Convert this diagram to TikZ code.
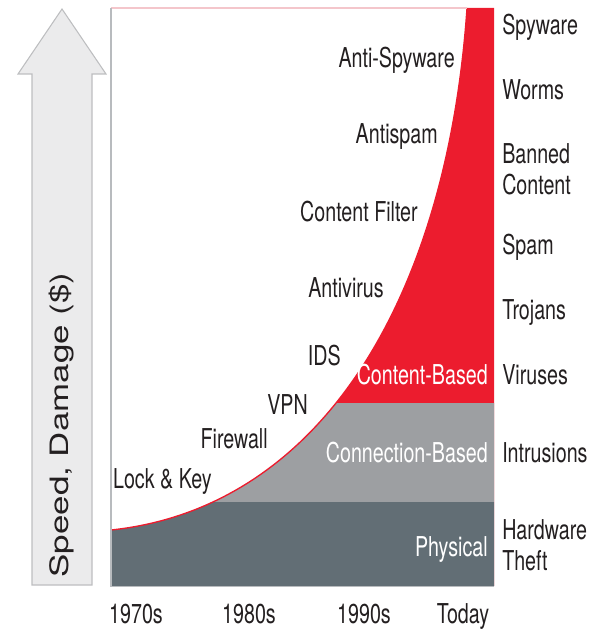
\documentclass[tikz,border=0pt]{standalone}
\usepackage{fontspec}
\newfontfamily\cf[FakeStretch=0.72]{TeX Gyre Heros}
\newfontfamily\wf[FakeStretch=1.38]{TeX Gyre Heros}
\definecolor{redc}{HTML}{EC1C2E}
\definecolor{midgrey}{HTML}{9D9FA2}
\definecolor{darkgrey}{HTML}{626E75}
\definecolor{arrowfill}{HTML}{EBEBEC}
\definecolor{arrowline}{HTML}{BDBEC0}
\definecolor{framec}{HTML}{B8BBBE}
\definecolor{pinkline}{HTML}{F4C6CB}
\definecolor{txt}{HTML}{231F20}
\begin{document}
\begin{tikzpicture}[x=0.75pt,y=-0.75pt,
  lbl/.style={font=\cf\fontsize{20.5}{22}\selectfont, text=txt, inner sep=0pt},
  wlbl/.style={lbl, text=white},
  lft/.style={lbl, anchor=base east},
  rgt/.style={lbl, anchor=base west},
  yr/.style={lbl, anchor=base}]
\useasboundingbox (0,0) rectangle (590,631);
% vertical arrow
\draw[fill=arrowfill, draw=arrowline, line width=0.8]
  (32,585) -- (32,74) -- (18,74) -- (62,9) -- (106,74) -- (92,74) -- (92,585) -- cycle;
\node[rotate=90, anchor=base, font=\wf\fontsize{19}{22}\selectfont, text=txt, inner sep=0pt]
  (ylab) at (68,425) {Speed, Damage (\$)};
% regions
\def\curvepath{(111,530) .. controls (320,508) and (447,300) .. (467,8)}
\fill[redc] \curvepath -- (494,8) -- (494,586) -- (111,586) -- cycle;
\begin{scope}
  \clip \curvepath -- (494,8) -- (494,586) -- (111,586) -- cycle;
  \fill[midgrey] (100,403) rectangle (500,502);
  \fill[darkgrey] (100,502) rectangle (500,586);
\end{scope}
\draw[redc, line width=1] \curvepath;
% frame
\draw[pinkline, line width=0.8] (111,8) -- (467,8);
\draw[framec, line width=1.2] (111,8) -- (111,586.5) -- (494,586.5);
% defences
\node[lft] (antispy) at (455,68) {Anti-Spyware};
\node[lft] (antispam) at (438,144) {Antispam};
\node[lft] (cfilter) at (418,221) {Content Filter};
\node[lft] (antivirus) at (384,297) {Antivirus};
\node[lft] (ids) at (341,365) {IDS};
\node[lft] (vpn) at (308,414) {VPN};
\node[lft] (firewall) at (268,448) {Firewall};
\node[lft] (lock) at (212,488) {Lock \& Key};
% bands
\node[wlbl, anchor=base east] (content) at (488,384) {Content-Based};
\node[wlbl, anchor=base east] (connection) at (488,462) {Connection-Based};
\node[wlbl, anchor=base east] (physical) at (488,556) {Physical};
% threats
\node[rgt] (spyware) at (502,35) {Spyware};
\node[rgt] (worms) at (502,100) {Worms};
\node[rgt] (banned) at (502,163) {Banned};
\node[rgt] (bcontent) at (502,194) {Content};
\node[rgt] (spam) at (502,254) {Spam};
\node[rgt] (trojans) at (502,319) {Trojans};
\node[rgt] (viruses) at (502,384) {Viruses};
\node[rgt] (intrusions) at (502,462) {Intrusions};
\node[rgt] (hardware) at (502,539) {Hardware};
\node[rgt] (theft) at (502,570) {Theft};
% years
\node[yr] (y70) at (136,623) {1970s};
\node[yr] (y80) at (249,623) {1980s};
\node[yr] (y90) at (364,623) {1990s};
\node[yr] (today) at (463,623) {Today};
\end{tikzpicture}
\end{document}
